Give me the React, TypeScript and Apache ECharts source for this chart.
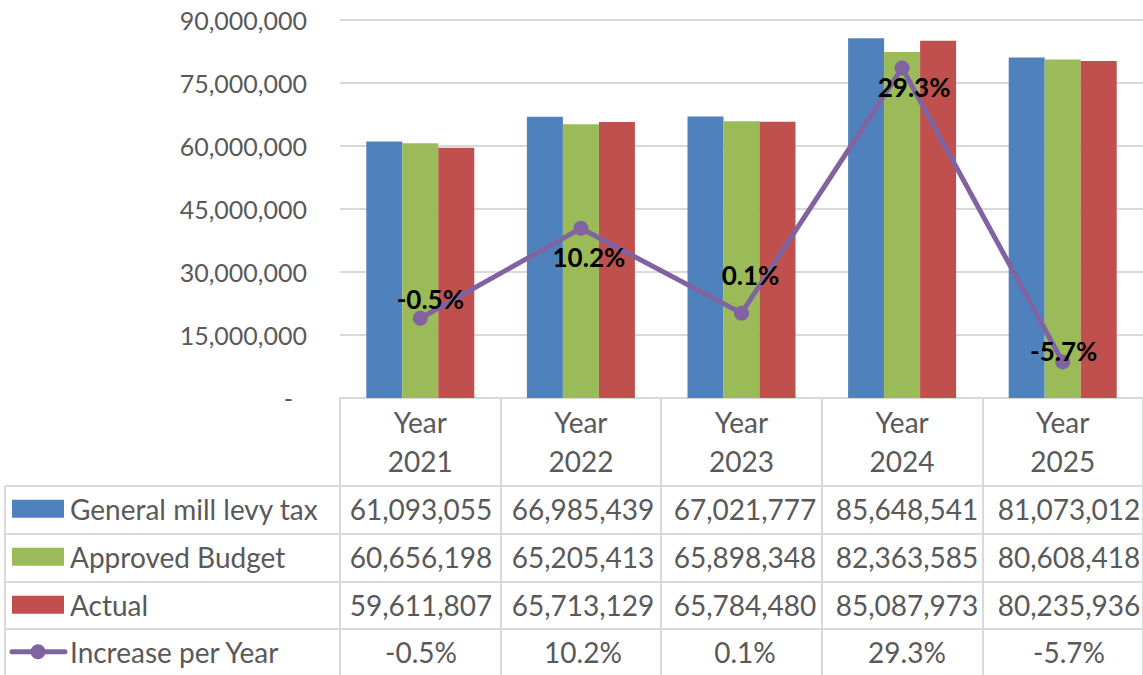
import React, { useEffect, useRef } from 'react';
import * as echarts from 'echarts';

// ---- Data ----
const categories = ['2021', '2022', '2023', '2024', '2025'];
const seriesNames = ['General mill levy tax', 'Approved Budget', 'Actual', 'Increase per Year'];
const generalMillLevyTax = [61093055, 66985439, 67021777, 85648541, 81073012];
const approvedBudget = [60656198, 65205413, 65898348, 82363585, 80608418];
const actual = [59611807, 65713129, 65784480, 85087973, 80235936];
const increasePerYear = [-0.5, 10.2, 0.1, 29.3, -5.7];

// ---- Style / layout ----
const COLORS = ['#4F81BD', '#9BBB59', '#C0504D', '#8064A2'];
const FONT = 'Lato, "Open Sans", sans-serif';
const TEXT = '#595959';
const LINE = '#D9D9D9';
const GRID_LEFT = 340;
const CAT_W = 162;
const GRID_TOP = 20;
const GRID_H = 378;
const ROW_LINES = [486, 534, 582, 629];
const ROW_H = 47.5;
const LABEL_OFFSETS = [[10, -19], [8, 29], [9, -38], [12, 19], [1, -11]];

const fmtNum = (v: number) => v.toLocaleString('en-US');
const fmtPct = (v: number) => v.toFixed(1) + '%';

function buildTable() {
  const els: any[] = [];
  const W = 1143;
  ROW_LINES.forEach((y) => {
    els.push({ type: 'line', shape: { x1: 5, y1: y, x2: W, y2: y }, style: { stroke: LINE, lineWidth: 2 }, silent: true });
  });
  els.push({ type: 'line', shape: { x1: 5, y1: ROW_LINES[0], x2: 5, y2: 675 }, style: { stroke: LINE, lineWidth: 2 }, silent: true });

  const rows: { name: string; values: string[] }[] = [
    { name: seriesNames[0], values: generalMillLevyTax.map(fmtNum) },
    { name: seriesNames[1], values: approvedBudget.map(fmtNum) },
    { name: seriesNames[2], values: actual.map(fmtNum) },
    { name: seriesNames[3], values: increasePerYear.map(fmtPct) },
  ];
  rows.forEach((row, r) => {
    const cy = ROW_LINES[r] + ROW_H / 2 - 1;
    if (r < 3) {
      els.push({ type: 'rect', shape: { x: 12, y: cy - 9, width: 52, height: 18 }, style: { fill: COLORS[r] }, silent: true });
    } else {
      els.push({ type: 'line', shape: { x1: 12, y1: cy, x2: 65, y2: cy }, style: { stroke: COLORS[3], lineWidth: 5, lineCap: 'round' }, silent: true });
      els.push({ type: 'circle', shape: { cx: 38, cy: cy, r: 7.5 }, style: { fill: COLORS[3] }, silent: true });
    }
    els.push({
      type: 'text', x: 70, y: cy,
      style: { text: row.name, fill: TEXT, fontSize: 28, fontFamily: FONT, align: 'left', verticalAlign: 'middle', letterSpacing: 0.5 },
      silent: true,
    });
    row.values.forEach((v, i) => {
      els.push({
        type: 'text', x: GRID_LEFT + CAT_W * i + CAT_W / 2, y: cy,
        style: { text: v, fill: TEXT, fontSize: 28, fontFamily: FONT, align: 'center', verticalAlign: 'middle' },
        silent: true,
      });
    });
  });
  return els;
}

export default function App() {
  const ref = useRef<HTMLDivElement>(null);
  useEffect(() => {
    const chart = echarts.init(ref.current!, null, { renderer: 'svg' });
    const option: any = {
      animation: false,
      backgroundColor: '#ffffff',
      grid: { left: GRID_LEFT, top: GRID_TOP, width: CAT_W * categories.length, height: GRID_H, containLabel: false },
      xAxis: {
        type: 'category',
        data: categories,
        boundaryGap: true,
        axisLine: { show: true, lineStyle: { color: LINE, width: 2 } },
        axisTick: { show: true, length: 277, interval: 0, lineStyle: { color: LINE, width: 2 } },
        axisLabel: {
          interval: 0,
          margin: 4,
          color: TEXT,
          fontSize: 28,
          fontFamily: FONT,
          lineHeight: 39,
          formatter: (v: string) => 'Year\n' + v,
        },
      },
      yAxis: [
        {
          type: 'value',
          min: 0,
          max: 90000000,
          interval: 15000000,
          axisLine: { show: false },
          axisTick: { show: false },
          splitLine: { lineStyle: { color: LINE, width: 2 } },
          axisLabel: {
            margin: 33,
            color: TEXT,
            fontSize: 25,
            fontFamily: FONT,
            formatter: (v: number) => (v === 0 ? '{d|-}' : fmtNum(v)),
            rich: { d: { color: TEXT, fontSize: 25, fontFamily: FONT, padding: [0, 14, 0, 0] } },
          },
        },
        {
          type: 'value',
          min: -10,
          max: 35,
          show: false,
          splitLine: { show: false },
        },
      ],
      series: [
        { name: seriesNames[0], type: 'bar', data: generalMillLevyTax, barWidth: 36, barGap: '0%', itemStyle: { color: COLORS[0] } },
        { name: seriesNames[1], type: 'bar', data: approvedBudget, barWidth: 36, barGap: '0%', itemStyle: { color: COLORS[1] } },
        { name: seriesNames[2], type: 'bar', data: actual, barWidth: 36, barGap: '0%', itemStyle: { color: COLORS[2] } },
        {
          name: seriesNames[3],
          type: 'line',
          yAxisIndex: 1,
          z: 5,
          data: increasePerYear.map((v, i) => ({
            value: v,
            label: { offset: LABEL_OFFSETS[i] },
          })),
          symbol: 'circle',
          symbolSize: 15,
          lineStyle: { color: COLORS[3], width: 5 },
          itemStyle: { color: COLORS[3] },
          label: {
            show: true,
            position: 'inside',
            color: '#000000',
            fontWeight: 'bold',
            fontSize: 26,
            fontFamily: FONT,
            formatter: (p: any) => fmtPct(p.value),
          },
        },
      ],
      graphic: buildTable(),
    };
    chart.setOption(option);
    return () => chart.dispose();
  }, []);
  return <div ref={ref} style={{ position: 'absolute', left: 0, top: 0, width: 1143, height: 675 }} />;
}
